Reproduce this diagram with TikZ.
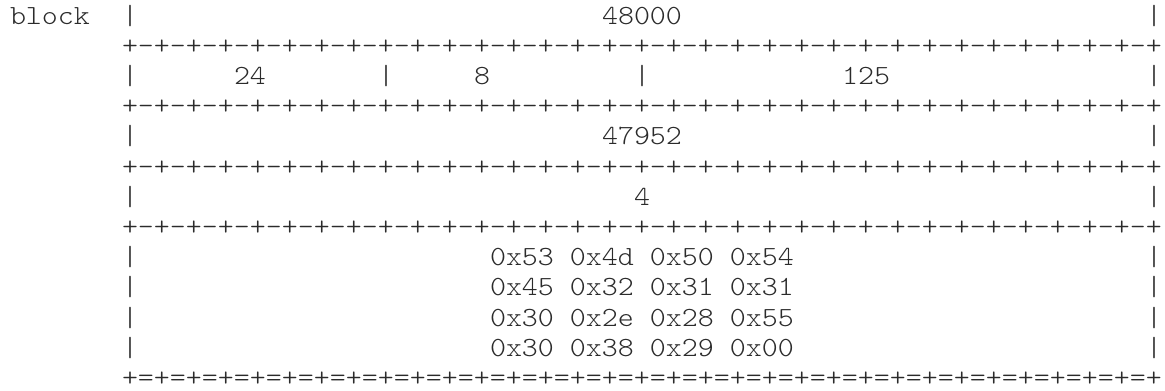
\documentclass[tikz,border=0pt]{standalone}
\usepackage{fontspec}
\newfontfamily\asciimono{Latin Modern Mono Light}[FakeStretch=1.1]
\definecolor{ink}{HTML}{2B2B2B}
\def\dashseg{+-+-+-+-+-+-+-+-}
\def\eqseg{+=+=+=+=+=+=+=+=}
\tikzset{
  cell/.style={anchor=base west, inner sep=0pt, outer sep=0pt, text=ink,
    font=\asciimono\fontsize{27.7pt}{30.2pt}\selectfont}
}
\newcommand\putat[4]{\node[cell] (#1) at ({10pt+16pt*#2},{-24pt-30.2pt*#3}) {#4};}
\begin{document}
\begin{tikzpicture}
\useasboundingbox[fill=white] (0,0) rectangle (1165pt,-391pt);
% row 0
\putat{blk}{0}{0}{block}
\putat{r0l}{7}{0}{|}
\putat{r0t}{37}{0}{48000}
\putat{r0r}{71}{0}{|}
% row 1
\putat{s1}{7}{1}{\dashseg\dashseg\dashseg\dashseg+}
% row 2
\putat{r2l}{7}{2}{|}
\putat{r2a}{14}{2}{24}
\putat{r2b}{23}{2}{|}
\putat{r2c}{29}{2}{8}
\putat{r2d}{39}{2}{|}
\putat{r2e}{52}{2}{125}
\putat{r2r}{71}{2}{|}
% row 3
\putat{s3}{7}{3}{\dashseg\dashseg\dashseg\dashseg+}
% row 4
\putat{r4l}{7}{4}{|}
\putat{r4t}{37}{4}{47952}
\putat{r4r}{71}{4}{|}
% row 5
\putat{s5}{7}{5}{\dashseg\dashseg\dashseg\dashseg+}
% row 6
\putat{r6l}{7}{6}{|}
\putat{r6t}{39}{6}{4}
\putat{r6r}{71}{6}{|}
% row 7
\putat{s7}{7}{7}{\dashseg\dashseg\dashseg\dashseg+}
% rows 8-11
\putat{r8l}{7}{8}{|}
\putat{r8t}{30}{8}{0x53 0x4d 0x50 0x54}
\putat{r8r}{71}{8}{|}
\putat{r9l}{7}{9}{|}
\putat{r9t}{30}{9}{0x45 0x32 0x31 0x31}
\putat{r9r}{71}{9}{|}
\putat{r10l}{7}{10}{|}
\putat{r10t}{30}{10}{0x30 0x2e 0x28 0x55}
\putat{r10r}{71}{10}{|}
\putat{r11l}{7}{11}{|}
\putat{r11t}{30}{11}{0x30 0x38 0x29 0x00}
\putat{r11r}{71}{11}{|}
% row 12
\putat{s12}{7}{12}{\eqseg\eqseg\eqseg\eqseg+}
\end{tikzpicture}
\end{document}
